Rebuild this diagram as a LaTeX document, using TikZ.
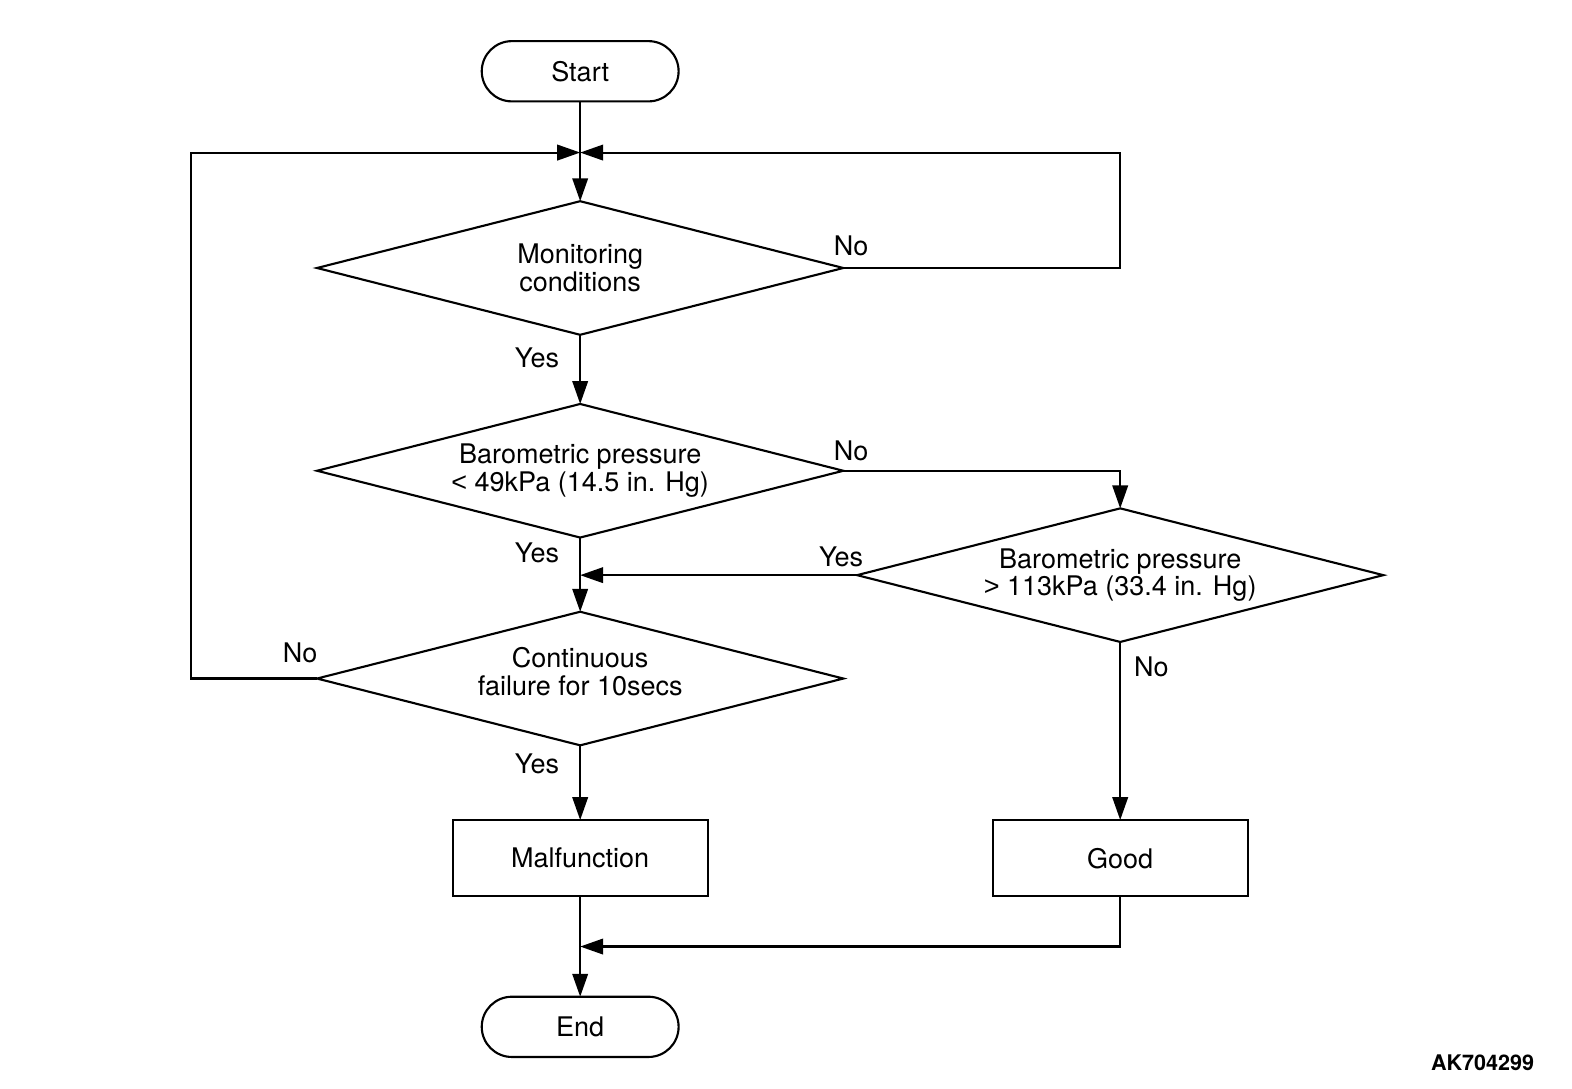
\documentclass[tikz,border=0pt]{standalone}
\usepackage{fontspec}
\setmainfont{TeX Gyre Heros}
\newfontfamily\relfont{Liberation Sans}
\usetikzlibrary{shapes.geometric,arrows.meta}

\tikzset{
	line/.style={line width=0.6pt},
	flow/.style={line, -{Triangle[length=6.5pt,width=4.4pt]}},
	terminal/.style={line, draw, rounded corners=0.3cm, minimum width=1.96cm, minimum height=0.6cm, inner sep=0pt, outer sep=0pt},
	process/.style={line, draw, minimum width=2.54cm, minimum height=0.76cm, inner sep=0pt, outer sep=0pt},
	decision/.style={line, draw, diamond, aspect=4, minimum width=5.24cm, minimum height=1.33cm, inner sep=0pt, outer sep=0pt, align=center},
	answer/.style={inner sep=0pt}
}

\begin{document}
\begin{tikzpicture}[x=0.01cm, y=-0.01cm, font=\fontsize{7.65}{7.8}\selectfont]
\useasboundingbox (0,0) rectangle (1566.1,1084.9);

% blocks
\node[terminal] (start) at (578, 71) {Start};
\node[decision] (mon) at (578, 267) {Monitoring\\conditions};
\node[decision] (low) at (578, 469) {Barometric pressure\\{\relfont<} 49kPa (14.5 in. Hg)};
\node[decision] (high) at (1116, 573) {Barometric pressure\\{\relfont>} 113kPa (33.4 in. Hg)};
\node[decision, text depth=0.14cm] (cont) at (578, 676) {Continuous\\failure for 10secs};
\node[process] (bad) at (578, 855) {Malfunction};
\node[process] (good) at (1116, 855) {Good};
\node[terminal] (end) at (578, 1023) {End};

\coordinate (merge) at (578, 152);
\coordinate (ltop) at (190, 152);
\coordinate (rtop) at (1116, 152);
\coordinate (join) at (578, 573);
\coordinate (tail) at (578, 943);

% answers
\node[answer] (monno) at (848, 245) {No};
\node[answer] (monyes) at (535, 357) {Yes};
\node[answer] (lowno) at (848, 449) {No};
\node[answer] (lowyes) at (535, 551) {Yes};
\node[answer] (highyes) at (838, 555) {Yes};
\node[answer] (highno) at (1147, 664) {No};
\node[answer] (contno) at (299, 650) {No};
\node[answer] (contyes) at (535, 761) {Yes};

% connectors
\draw[line] (start.south) -- (merge);
\draw[flow] (merge) -- (mon.north);
\draw[flow] (mon.east) -| (rtop) -- (merge);
\draw[flow] (cont.west) -| (ltop) -- (merge);
\draw[flow] (mon.south) -- (low.north);
\draw[flow] (low.east) -| (high.north);
\draw[flow] (low.south) -- (cont.north);
\draw[flow] (high.west) -- (join);
\draw[flow] (cont.south) -- (bad.north);
\draw[flow] (high.south) -- (good.north);
\draw[flow] (bad.south) -- (end.north);
\draw[flow] (good.south) |- (tail);

\node[font=\fontsize{6.1}{7}\selectfont\bfseries] (code) at (1477, 1059) {AK704299};

\end{tikzpicture}
\end{document}
